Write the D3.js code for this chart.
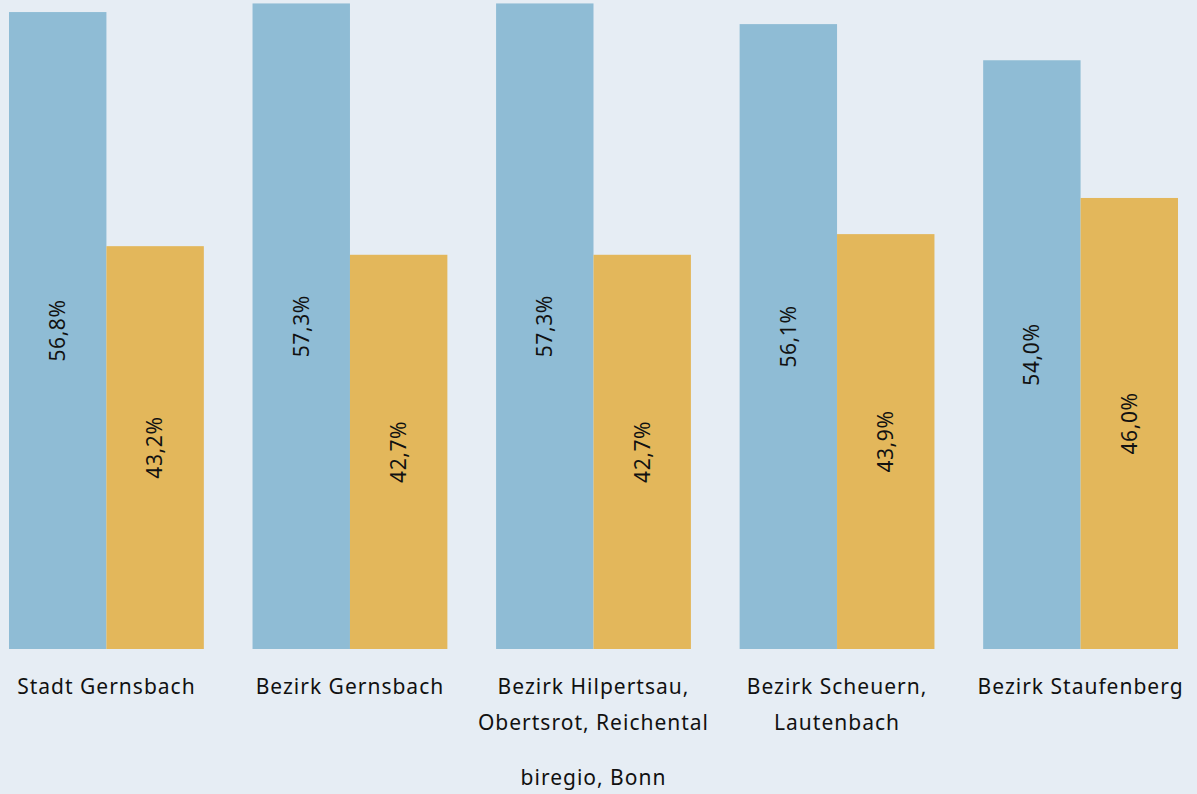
<!DOCTYPE html>
<html>
<head>
<meta charset="utf-8">
<script src="https://cdn.jsdelivr.net/npm/d3@7"></script>
<style>
  html, body { margin: 0; padding: 0; background: #e6edf4; }
  svg { display: block; font-family: "Noto Sans", "Open Sans", sans-serif; }
</style>
</head>
<body>
<script>
// data
const categories = [
    ["Stadt Gernsbach"],
    ["Bezirk Gernsbach"],
    ["Bezirk Hilpertsau,", "Obertsrot, Reichental"],
    ["Bezirk Scheuern,", "Lautenbach"],
    ["Bezirk Staufenberg"]
];
const seriesA = [56.8, 57.3, 57.3, 56.1, 54.0];
const seriesB = [43.2, 42.7, 42.7, 43.9, 46.0];
const source = "biregio, Bonn";

const width = 1197;
const height = 794;
const baseY = 649;

const svg = d3.select("body")
    .append("svg")
    .attr("width", width)
    .attr("height", height);

svg.append("rect")
    .attr("width", width)
    .attr("height", height)
    .attr("fill", "#e6edf4");

const dataset = categories.map((c, i) => ({
    name: c.join(" "),
    lines: c,
    values: [seriesA[i], seriesB[i]]
}));

// X scales
const x = d3.scaleBand()
    .domain(dataset.map(d => d.name))
    .range([9, 1178])
    .paddingInner(0.2)
    .paddingOuter(0);

const x1 = d3.scaleBand()
    .domain([0, 1])
    .range([0, x.bandwidth()]);

// Y scale
const y = d3.scaleLinear()
    .domain([19.8, 57.5])
    .range([baseY, 0]);

const colors = ["#8fbcd5", "#e3b75b"];

const groups = svg.selectAll("g.group")
    .data(dataset)
    .enter()
    .append("g")
    .attr("class", "group")
    .attr("transform", d => `translate(${x(d.name)},0)`);

const bars = groups.selectAll("g.bar")
    .data(d => d.values.map((v, k) => ({k, v})))
    .enter()
    .append("g")
    .attr("class", "bar");

bars.append("rect")
    .attr("x", d => x1(d.k))
    .attr("y", d => y(d.v))
    .attr("width", x1.bandwidth())
    .attr("height", d => baseY - y(d.v))
    .attr("fill", d => colors[d.k]);

// rotated value labels
bars.append("text")
    .attr("transform", d => `translate(${x1(d.k) + x1.bandwidth() / 2},${(y(d.v) + baseY) / 2}) rotate(-90)`)
    .attr("text-anchor", "middle")
    .attr("dy", "0.35em")
    .attr("font-size", 21)
    .attr("letter-spacing", 0.6)
    .attr("fill", "#111")
    .text(d => d3.format(".1f")(d.v).replace(".", ",") + "%");

// category labels
groups.append("text")
    .attr("text-anchor", "middle")
    .attr("font-size", 21)
    .attr("letter-spacing", 1)
    .attr("fill", "#111")
    .selectAll("tspan")
    .data(d => d.lines)
    .enter()
    .append("tspan")
    .attr("x", x.bandwidth() / 2)
    .attr("y", (d, i) => 694 + i * 36)
    .text(d => d);

// source
svg.append("text")
    .attr("x", (x.range()[0] + x.range()[1]) / 2)
    .attr("y", 785)
    .attr("text-anchor", "middle")
    .attr("font-size", 21)
    .attr("letter-spacing", 1)
    .attr("fill", "#111")
    .text(source);
</script>
</body>
</html>
